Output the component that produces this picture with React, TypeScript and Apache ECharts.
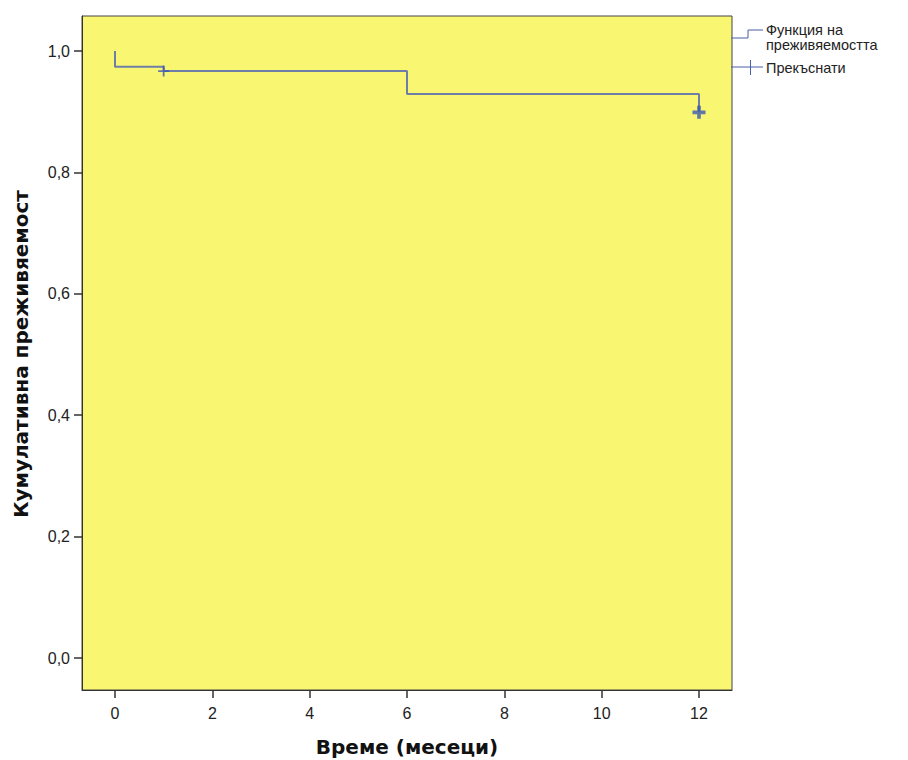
import React, { useEffect, useRef } from "react";
import * as echarts from "echarts";

// Kaplan–Meier survival estimate (time in months, cumulative survival)
const stepTimes = [0, 0, 1, 1, 6, 6, 12, 12];
const stepSurvival = [1.0, 0.974, 0.974, 0.967, 0.967, 0.929, 0.929, 0.899];

// Censored observations
const censorTimesSmall = [1];
const censorSurvivalSmall = [0.967];
const censorTimesBold = [12];
const censorSurvivalBold = [0.899];

const xTicks = [0, 2, 4, 6, 8, 10, 12];
const yTicks = [0, 0.2, 0.4, 0.6, 0.8, 1.0];

const legendLabels = ["Функция на", "преживяемостта", "Прекъснати"];
const xTitle = "Време (месеци)";
const yTitle = "Кумулативна преживяемост";

const FONT = "'Liberation Sans', Arial, sans-serif";
const TITLE_FONT = "'DejaVu Sans', sans-serif";
const LINE_COLOR = "#6f7ea6";
const CENSOR_COLOR = "#3b57b3";
const LEGEND_COLOR = "#4b5fa8";

const crossThin = "path://M0,4.2H10V5.8H0Z M4.2,0H5.8V10H4.2Z";
const crossBold = "path://M0,3.6H10V6.4H0Z M3.6,0H6.4V10H3.6Z";

export default function App() {
  const ref = useRef<HTMLDivElement>(null);

  useEffect(() => {
    if (!ref.current) return;
    const chart = echarts.init(ref.current, null, { renderer: "svg" });

    const stepData = stepTimes.map((t, i) => [t, stepSurvival[i]]);
    const smallData = censorTimesSmall.map((t, i) => [t, censorSurvivalSmall[i]]);
    const boldData = censorTimesBold.map((t, i) => [t, censorSurvivalBold[i]]);

    const legendText = (text: string, y: number) => ({
      type: "text",
      x: 758,
      y,
      style: {
        text,
        fontSize: 14.5,
        fontFamily: FONT,
        fill: "#222222",
        verticalAlign: "middle",
      },
    });

    chart.setOption({
      animation: false,
      backgroundColor: "#ffffff",
      textStyle: { fontFamily: FONT },
      grid: {
        left: 74,
        top: 8,
        width: 650,
        height: 674,
        show: true,
        backgroundColor: "#f9f672",
        borderColor: "#444444",
        borderWidth: 1,
        containLabel: false,
        outerBoundsMode: "none",
      },
      xAxis: {
        type: "value",
        min: -0.678,
        max: 12.678,
        axisLine: { show: true, onZero: false, lineStyle: { color: "#333333", width: 1 } },
        axisTick: {
          show: true,
          length: 8,
          customValues: xTicks,
          lineStyle: { color: "#333333", width: 1.5 },
        },
        axisLabel: {
          customValues: xTicks,
          margin: 15,
          fontSize: 16,
          color: "#222222",
          fontFamily: FONT,
        },
        splitLine: { show: false },
      },
      yAxis: {
        type: "value",
        min: -0.0527,
        max: 1.0577,
        axisLine: { show: true, onZero: false, lineStyle: { color: "#333333", width: 1 } },
        axisTick: {
          show: true,
          length: 8,
          customValues: yTicks,
          lineStyle: { color: "#333333", width: 1.5 },
        },
        axisLabel: {
          customValues: yTicks,
          margin: 12,
          fontSize: 16,
          color: "#222222",
          fontFamily: FONT,
          formatter: (v: number) => v.toFixed(1).replace(".", ","),
        },
        splitLine: { show: false },
      },
      series: [
        {
          type: "line",
          data: stepData,
          showSymbol: false,
          symbol: "none",
          lineStyle: { color: LINE_COLOR, width: 2 },
          z: 2,
        },
        {
          type: "scatter",
          data: smallData,
          symbol: crossThin,
          symbolSize: 11,
          itemStyle: { color: CENSOR_COLOR },
          z: 3,
        },
        {
          type: "scatter",
          data: boldData,
          symbol: crossBold,
          symbolSize: 13,
          itemStyle: { color: CENSOR_COLOR },
          z: 3,
        },
      ],
      graphic: [
        {
          type: "text",
          x: 399,
          y: 739,
          style: {
            text: xTitle,
            fontSize: 20,
            fontWeight: "bold",
            fontFamily: TITLE_FONT,
            fill: "#111111",
            align: "center",
            verticalAlign: "middle",
          },
        },
        {
          type: "text",
          x: 13,
          y: 346,
          rotation: Math.PI / 2,
          style: {
            text: yTitle,
            fontSize: 20,
            fontWeight: "bold",
            fontFamily: TITLE_FONT,
            fill: "#111111",
            align: "center",
            verticalAlign: "middle",
          },
        },
        {
          type: "polyline",
          shape: { points: [[723, 30], [740, 30], [740, 22], [755, 22]] },
          style: { stroke: LEGEND_COLOR, lineWidth: 1, fill: null },
        },
        {
          type: "line",
          shape: { x1: 723, y1: 59, x2: 755, y2: 59 },
          style: { stroke: LEGEND_COLOR, lineWidth: 1 },
        },
        {
          type: "line",
          shape: { x1: 742.5, y1: 52, x2: 742.5, y2: 67 },
          style: { stroke: LEGEND_COLOR, lineWidth: 1 },
        },
        legendText(legendLabels[0], 22),
        legendText(legendLabels[1], 37),
        legendText(legendLabels[2], 60),
      ],
    });

    return () => chart.dispose();
  }, []);

  return <div ref={ref} style={{ width: 900, height: 752 }} />;
}
